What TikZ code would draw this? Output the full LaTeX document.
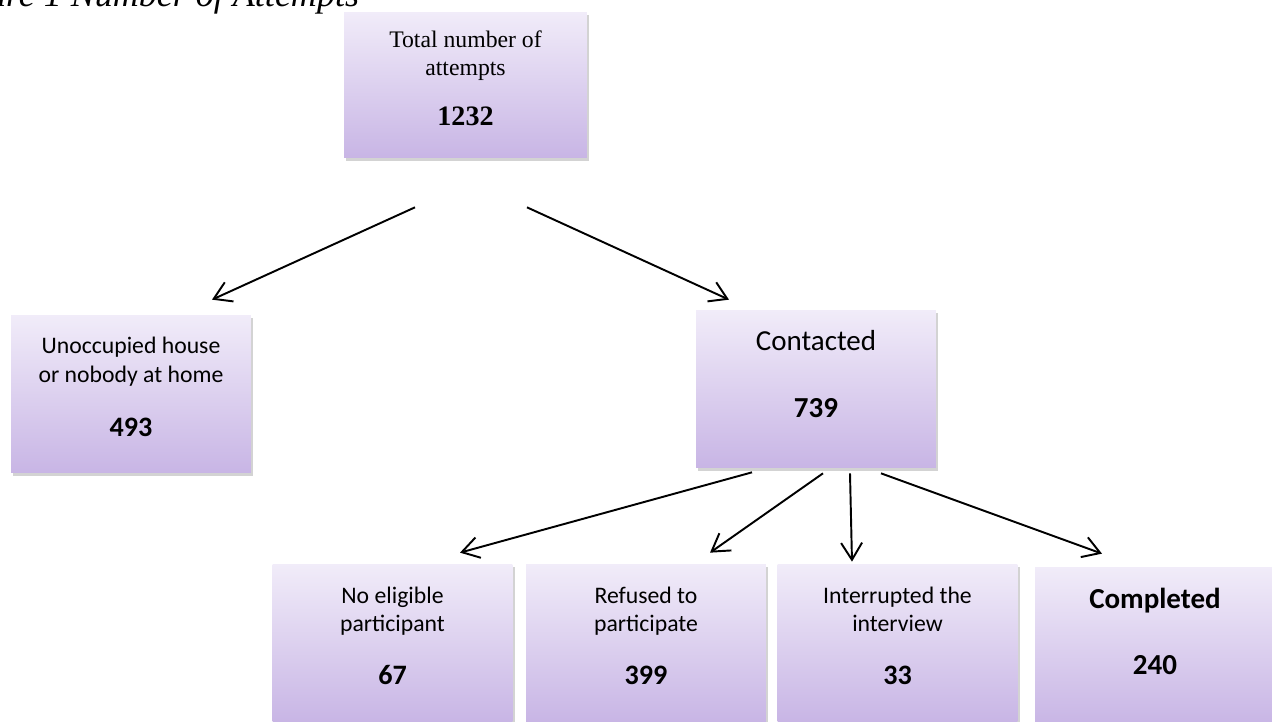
\documentclass[tikz,border=0pt]{standalone}
\usepackage{fontspec}
\setmainfont{Liberation Serif}
\newfontfamily\calibri{Carlito}
\usetikzlibrary{arrows.meta,shadows}
\definecolor{boxtop}{RGB}{241,236,249}
\definecolor{boxbot}{RGB}{200,181,229}
\newcommand{\boxfont}{\calibri\fontsize{13.5}{16.2}\selectfont}
\newcommand{\bigfont}{\calibri\fontsize{16.5}{19.8}\selectfont}
\tikzset{% 
  flowbox/.style = {shape=rectangle, align=center,
    top color=boxtop, bottom color=boxbot,
    drop shadow={shadow xshift=1.2pt, shadow yshift=-1.5pt, opacity=.35},
    minimum width=4.8cm, minimum height=3.16cm, inner sep=0pt},
  twoline/.style = {flowbox, text depth=8pt},
  oneline/.style = {flowbox, text depth=17pt},
  flowarrow/.style = {draw, line width=1.1pt,
    -{Straight Barb[length=3.4mm,width=4.2mm]}}
}

\begin{document}
\begin{tikzpicture}[x=0.02cm, y=-0.02cm]
\useasboundingbox (0,0) rectangle (1272,722);
\clip (0,0) rectangle (1272,722);
\node[anchor=base west, font=\fontsize{20.5}{24}\selectfont\itshape]
  (caption) at (-68,7) {Figure 1 Number of Attempts};
% boxes
\node[twoline, minimum width=4.86cm, minimum height=2.92cm,
  font=\fontsize{13.5}{16.2}\selectfont] (total) at (465.5,85)
  {Total number of\\attempts\\[12pt]{\fontsize{16}{19}\selectfont\bfseries 1232}};
\node[twoline, font=\boxfont] (unocc) at (131,394)
  {Unoccupied house\\or nobody at home\\[15pt]{\fontsize{16}{19}\selectfont\bfseries 493}};
\node[oneline, font=\bigfont] (contact) at (816,389)
  {Contacted\\[18pt]{\bfseries 739}};
\node[twoline, font=\boxfont] (noelig) at (392.5,643)
  {No eligible\\participant\\[14pt]{\fontsize{16}{19}\selectfont\bfseries 67}};
\node[twoline, font=\boxfont] (refused) at (646,643)
  {Refused to\\participate\\[14pt]{\fontsize{16}{19}\selectfont\bfseries 399}};
\node[twoline, font=\boxfont] (interr) at (897.5,643)
  {Interrupted the\\interview\\[14pt]{\fontsize{16}{19}\selectfont\bfseries 33}};
\node[oneline, font=\bigfont\bfseries] (compl) at (1155,646)
  {Completed\\[18pt]240};
% arrows
\draw[flowarrow] ([shift={(-50.5,49)}]total.south) -- ([shift={(81,-15)}]unocc.north);
\draw[flowarrow] ([shift={(61.5,49)}]total.south) -- ([shift={(-87,-10)}]contact.north);
\draw[flowarrow] ([shift={(-64,4)}]contact.south) -- ([shift={(67.5,-11)}]noelig.north);
\draw[flowarrow] ([shift={(7,5)}]contact.south) -- ([shift={(64,-11)}]refused.north);
\draw[flowarrow] ([shift={(34,5)}]contact.south) -- ([shift={(-45.5,-2)}]interr.north);
\draw[flowarrow] ([shift={(65,5)}]contact.south) -- ([shift={(-53,-13)}]compl.north);
\end{tikzpicture}
\end{document}
